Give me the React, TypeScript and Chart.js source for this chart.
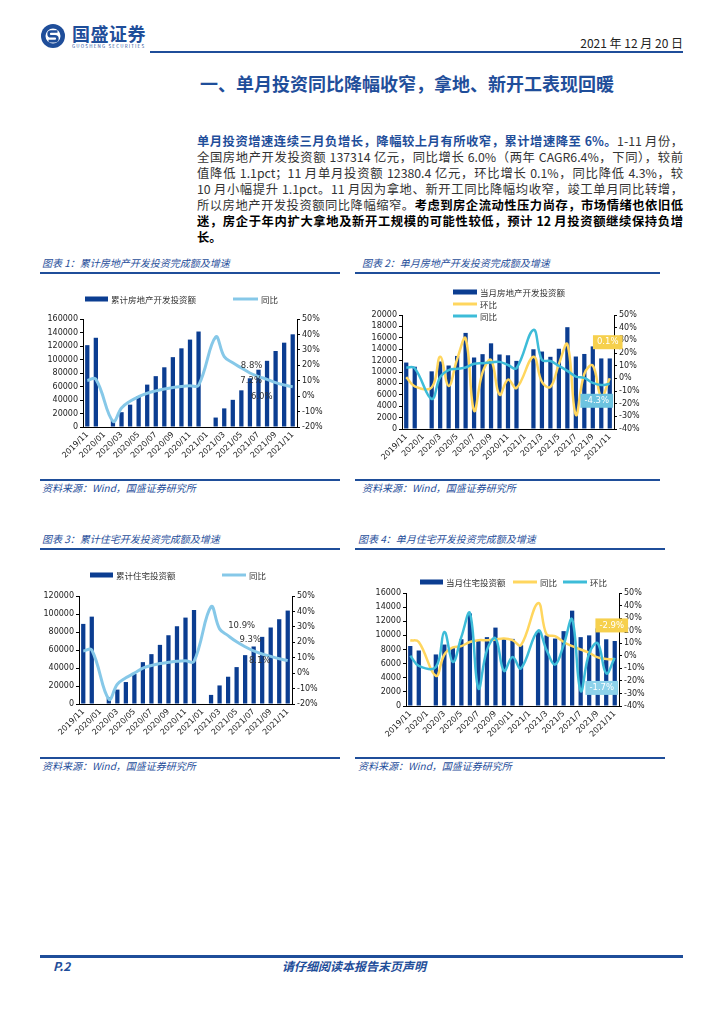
import React, { useEffect, useRef } from "react";
import { Chart, registerables } from "chart.js";

Chart.register(...registerables);

// ---------------- data ----------------
const categories = [
  "2019/11", "2019/12", "2020/01", "2020/02", "2020/03", "2020/04", "2020/05", "2020/06", "2020/07",
  "2020/08", "2020/09", "2020/10", "2020/11", "2020/12", "2021/01", "2021/02", "2021/03", "2021/04",
  "2021/05", "2021/06", "2021/07", "2021/08", "2021/09", "2021/10", "2021/11",
];
const categoriesShort = [
  "2019/11", "2019/12", "2020/1", "2020/2", "2020/3", "2020/4", "2020/5", "2020/6", "2020/7",
  "2020/8", "2020/9", "2020/10", "2020/11", "2020/12", "2021/1", "2021/2", "2021/3", "2021/4",
  "2021/5", "2021/6", "2021/7", "2021/8", "2021/9", "2021/10", "2021/11",
];

// Chart 1: cumulative real-estate development investment (亿元) and YoY (%)
const cumInvest = [121265, 132194, null, 10115, 21963, 33103, 45920, 62780, 75325, 88454, 103484, 116556, 129492, 141443, null, 13986, 27576, 40240, 54318, 72179, 84895, 98060, 112552, 124934, 137314];
const cumInvestYoY = [10.2, 11.0, null, -16.3, -7.7, -3.3, -0.3, 1.9, 3.4, 4.6, 5.6, 6.3, 6.8, 7.0, null, 38.3, 25.6, 21.6, 18.3, 15.0, 12.7, 10.9, 8.8, 7.2, 6.0];

// Chart 2: monthly real-estate development investment, MoM and YoY (%)
const monthInvest = [11659, 10929, null, 10115, 11848, 11140, 12817, 16860, 12545, 13129, 15030, 13072, 12936, 11951, null, 13986, 13590, 12664, 14078, 17861, 12716, 13165, 14492, 12382, 12380];
const monthInvestMoM = [1.0, -6.3, null, -7.2, 17.1, -6.0, 15.1, 31.5, -25.6, 4.7, 14.5, -13.0, -1.0, -7.6, null, 17.0, -2.8, -6.8, 11.2, 26.9, -28.8, 3.5, 10.1, -14.6, 0.1];
const monthInvestYoY = [8.5, 8.0, null, -16.3, 1.0, 6.5, 7.5, 8.5, 11.5, 12.0, 12.5, 13.0, 10.5, 8.0, null, 38.3, 14.5, 13.7, 9.8, 5.9, 1.4, 0.3, -3.6, -5.3, -4.3];

// Chart 3: cumulative residential investment and YoY
const cumResi = [89000, 97071, null, 7400, 16000, 24400, 33400, 46500, 55400, 65700, 76400, 86400, 96000, 104446, null, 10110, 20624, 30300, 41000, 54300, 63900, 74600, 85000, 94200, 103800];
const cumResiYoY = [14.4, 15.0, null, -16.9, -7.2, -3.0, 0.0, 3.3, 5.0, 6.2, 7.0, 7.7, 8.0, 7.6, null, 43.0, 28.7, 24.3, 20.3, 17.1, 14.4, 12.4, 10.9, 9.3, 8.1];

// Chart 4: monthly residential investment, YoY and MoM
const monthResi = [8500, 7860, null, 7300, 8700, 8200, 9450, 13100, 9200, 9750, 11100, 9550, 9500, 8600, null, 10450, 10000, 9550, 10600, 13500, 9750, 10000, 11000, 9450, 9200];
const monthResiYoY = [12.4, 11.0, null, -16.0, 1.0, 6.6, 7.7, 11.0, 12.4, 12.4, 13.0, 13.8, 12.4, 8.5, null, 42.0, 17.0, 15.6, 11.0, 7.7, 5.0, 2.4, -1.3, -2.6, -2.9];
const monthResiMoM = [0.0, -8.0, null, -9.0, 19.0, -5.0, 15.0, 34.0, -26.0, 4.5, 14.0, -12.0, -1.0, -10.0, null, 20.0, 4.5, -7.0, 8.5, 29.0, -28.0, 2.0, 10.0, -14.0, -1.7];

const paragraphLines = [
  "全国房地产开发投资额 137314 亿元，同比增长 6.0%（两年 CAGR6.4%，下同），较前",
  "值降低 1.1pct；11 月单月投资额 12380.4 亿元，环比增长 0.1%，同比降低 4.3%，较",
  "10 月小幅提升 1.1pct。11 月因为拿地、新开工同比降幅均收窄，竣工单月同比转增，",
];

// ---------------- styles ----------------
const NAVY = "#0b3d91";
const SKY = "#86c8e8";
const GOLD = "#ffd65e";
const TEAL = "#3dbcd8";
const BRAND = "#1f4e9a";
const TICK_FONT = { family: '"DejaVu Sans", sans-serif', size: 8 };

type LegendItem = { kind: "bar" | "line"; color: string; text: string; x: number; y: number; w: number };
type ValueLabel = { ds: number; idx: number; text: string; dx: number; dy: number; box?: string };

const overlayPlugin = {
  id: "overlay",
  afterDraw(chart: any, _args: any, opts: any) {
    const ctx = chart.ctx as CanvasRenderingContext2D;
    ctx.save();
    for (const it of (opts.legend || []) as LegendItem[]) {
      if (it.kind === "bar") {
        ctx.fillStyle = it.color;
        ctx.fillRect(it.x, it.y - 2.5, it.w, 5);
      } else {
        ctx.strokeStyle = it.color;
        ctx.lineWidth = 3;
        ctx.beginPath();
        ctx.moveTo(it.x, it.y);
        ctx.lineTo(it.x + it.w, it.y);
        ctx.stroke();
      }
      ctx.fillStyle = "#333";
      ctx.font = '8.5px "Noto Sans CJK SC"';
      ctx.textAlign = "left";
      ctx.textBaseline = "middle";
      ctx.fillText(it.text, it.x + it.w + 3, it.y + 0.5);
    }
    for (const lb of (opts.labels || []) as ValueLabel[]) {
      const el = chart.getDatasetMeta(lb.ds).data[lb.idx];
      if (!el) continue;
      const x = el.x + lb.dx;
      const y = el.y + lb.dy;
      ctx.font = '8.5px "DejaVu Sans"';
      ctx.textAlign = "center";
      ctx.textBaseline = "middle";
      if (lb.box) {
        const w = ctx.measureText(lb.text).width + 8;
        ctx.fillStyle = lb.box;
        ctx.fillRect(x - w / 2, y - 7, w, 14);
        ctx.fillStyle = "#fff";
      } else {
        ctx.fillStyle = "#333";
      }
      ctx.fillText(lb.text, x, y);
    }
    ctx.restore();
  },
};

type LineSpec = { data: (number | null)[]; label: string; color: string; width: number };
type Spec = {
  width: number;
  height: number;
  labels: string[];
  bars: (number | null)[];
  barLabel: string;
  lines: LineSpec[];
  yMax: number;
  yStep: number;
  y1Min: number;
  y1Max: number;
  area: { left: number; right: number; top: number; bottom: number };
  legend: LegendItem[];
  valueLabels: ValueLabel[];
};

function buildConfig(p: Spec): any {
  const labels = p.labels;
  return {
    type: "bar",
    data: {
      labels,
      datasets: [
        {
          type: "bar",
          label: p.barLabel,
          data: p.bars,
          backgroundColor: NAVY,
          barPercentage: 0.5,
          categoryPercentage: 1,
          yAxisID: "y",
          order: 5,
        },
        ...p.lines.map((l, i) => ({
          type: "line",
          label: l.label,
          data: l.data,
          borderColor: l.color,
          backgroundColor: l.color,
          borderWidth: l.width,
          pointRadius: 0,
          tension: 0.4,
          spanGaps: true,
          yAxisID: "y1",
          order: 3 - i,
        })),
      ],
    },
    options: {
      responsive: false,
      animation: false,
      layout: { padding: { top: p.area.top, left: 0, right: 0, bottom: 0 } },
      plugins: {
        legend: { display: false },
        tooltip: { enabled: false },
        overlay: { legend: p.legend, labels: p.valueLabels },
      },
      scales: {
        x: {
          type: "category",
          offset: true,
          grid: { display: true, drawOnChartArea: false, drawTicks: false, color: "#000" },
          border: { display: true, color: "#000", width: 1 },
          ticks: {
            autoSkip: false,
            maxRotation: 45,
            minRotation: 45,
            padding: 3,
            color: "#222",
            font: TICK_FONT,
            callback: (_v: any, index: number) => (index % 2 === 0 ? labels[index] : ""),
          },
          afterFit: (s: any) => {
            s.height = p.height - p.area.bottom;
          },
        },
        y: {
          position: "left",
          min: 0,
          max: p.yMax,
          ticks: {
            stepSize: p.yStep,
            autoSkip: false,
            color: "#222",
            font: TICK_FONT,
            padding: 2,
            callback: (v: any) => String(v),
          },
          grid: { display: true, drawOnChartArea: false, drawTicks: true, tickLength: 3, color: "#000" },
          border: { display: true, color: "#000", width: 1 },
          afterFit: (s: any) => {
            s.width = p.area.left;
          },
        },
        y1: {
          position: "right",
          min: p.y1Min,
          max: p.y1Max,
          ticks: {
            stepSize: 10,
            autoSkip: false,
            color: "#222",
            font: TICK_FONT,
            padding: 2,
            callback: (v: any) => `${v}%`,
          },
          grid: { display: true, drawOnChartArea: false, drawTicks: true, tickLength: 3, color: "#000" },
          border: { display: true, color: "#000", width: 1 },
          afterFit: (s: any) => {
            s.width = p.width - p.area.right;
          },
        },
      },
    },
    plugins: [overlayPlugin],
  };
}

function ChartBox({ left, top, spec }: { left: number; top: number; spec: Spec }) {
  const ref = useRef<HTMLCanvasElement>(null);
  useEffect(() => {
    const chart = new Chart(ref.current as HTMLCanvasElement, buildConfig(spec));
    return () => chart.destroy();
  }, []);
  return (
    <div style={{ position: "absolute", left, top, width: spec.width, height: spec.height }}>
      <canvas ref={ref} width={spec.width} height={spec.height} style={{ width: spec.width, height: spec.height, display: "block" }} />
    </div>
  );
}

const spec1: Spec = {
  width: 300,
  height: 194,
  labels: categories,
  bars: cumInvest,
  barLabel: "累计房地产开发投资额",
  lines: [{ data: cumInvestYoY, label: "同比", color: SKY, width: 3 }],
  yMax: 160000,
  yStep: 20000,
  y1Min: -20,
  y1Max: 50,
  area: { left: 43, right: 257, top: 35, bottom: 143 },
  legend: [
    { kind: "bar", color: NAVY, text: "累计房地产开发投资额", x: 45, y: 15, w: 23 },
    { kind: "line", color: SKY, text: "同比", x: 193, y: 15, w: 25 },
  ],
  valueLabels: [
    { ds: 1, idx: 22, text: "8.8%", dx: -24, dy: -17 },
    { ds: 1, idx: 23, text: "7.2%", dx: -33, dy: -4 },
    { ds: 1, idx: 24, text: "6.0%", dx: -31, dy: 10 },
  ],
};

const spec2: Spec = {
  width: 310,
  height: 194,
  labels: categoriesShort,
  bars: monthInvest,
  barLabel: "当月房地产开发投资额",
  lines: [
    { data: monthInvestMoM, label: "环比", color: GOLD, width: 2.5 },
    { data: monthInvestYoY, label: "同比", color: TEAL, width: 2.5 },
  ],
  yMax: 20000,
  yStep: 2000,
  y1Min: -40,
  y1Max: 50,
  area: { left: 47, right: 259, top: 31, bottom: 145 },
  legend: [
    { kind: "bar", color: NAVY, text: "当月房地产开发投资额", x: 98, y: 8, w: 24 },
    { kind: "line", color: GOLD, text: "环比", x: 98, y: 20, w: 24 },
    { kind: "line", color: TEAL, text: "同比", x: 98, y: 32, w: 24 },
  ],
  valueLabels: [
    { ds: 1, idx: 24, text: "0.1%", dx: -2, dy: -36, box: "#f6d04d" },
    { ds: 2, idx: 24, text: "-4.3%", dx: -13, dy: 17, box: "#6cc3e0" },
  ],
};

const spec3: Spec = {
  width: 300,
  height: 200,
  labels: categories,
  bars: cumResi,
  barLabel: "累计住宅投资额",
  lines: [{ data: cumResiYoY, label: "同比", color: SKY, width: 3 }],
  yMax: 120000,
  yStep: 20000,
  y1Min: -20,
  y1Max: 50,
  area: { left: 39, right: 252, top: 40, bottom: 148 },
  legend: [
    { kind: "bar", color: NAVY, text: "累计住宅投资额", x: 50, y: 19, w: 23 },
    { kind: "line", color: SKY, text: "同比", x: 182, y: 19, w: 24 },
  ],
  valueLabels: [
    { ds: 1, idx: 22, text: "10.9%", dx: -29, dy: -31 },
    { ds: 1, idx: 23, text: "9.3%", dx: -29, dy: -19 },
    { ds: 1, idx: 24, text: "8.1%", dx: -28, dy: 0 },
  ],
};

const spec4: Spec = {
  width: 310,
  height: 200,
  labels: categoriesShort,
  bars: monthResi,
  barLabel: "当月住宅投资额",
  lines: [
    { data: monthResiYoY, label: "同比", color: GOLD, width: 2.5 },
    { data: monthResiMoM, label: "环比", color: TEAL, width: 2.5 },
  ],
  yMax: 16000,
  yStep: 2000,
  y1Min: -40,
  y1Max: 50,
  area: { left: 51, right: 264, top: 37, bottom: 150 },
  legend: [
    { kind: "bar", color: NAVY, text: "当月住宅投资额", x: 65, y: 26, w: 23 },
    { kind: "line", color: GOLD, text: "同比", x: 158, y: 26, w: 24 },
    { kind: "line", color: TEAL, text: "环比", x: 208, y: 26, w: 24 },
  ],
  valueLabels: [
    { ds: 1, idx: 24, text: "-2.9%", dx: -3, dy: -34, box: "#f6d04d" },
    { ds: 2, idx: 24, text: "-1.7%", dx: -13, dy: 30, box: "#8dd2ea" },
  ],
};

const abs = (s: React.CSSProperties): React.CSSProperties => ({ position: "absolute", ...s });

function Rule({ left, top, width, h = 2 }: { left: number; top: number; width: number; h?: number }) {
  return <div style={abs({ left, top, width, height: h, background: BRAND })} />;
}

function Caption({ left, top, text }: { left: number; top: number; text: string }) {
  return (
    <div style={abs({ left, top, fontSize: 10, lineHeight: "12px", fontStyle: "italic", color: BRAND, whiteSpace: "nowrap" })}>
      {text}
    </div>
  );
}

const lineStyle = (top: number): React.CSSProperties =>
  abs({
    left: 197,
    top,
    width: 486,
    fontSize: 12.3,
    lineHeight: "16px",
    textAlign: "justify",
    textAlignLast: "justify",
    color: "#333",
    whiteSpace: "normal",
  } as React.CSSProperties);

export default function App() {
  const L0 = 133;
  const LH = 16;
  return (
    <div
      style={abs({
        left: 0,
        top: 0,
        width: 724,
        height: 1024,
        background: "#fff",
        overflow: "hidden",
        fontFamily: '"Noto Sans CJK SC", sans-serif',
      })}
    >
      {/* header */}
      <svg style={abs({ left: 40, top: 23 })} width={26} height={26} viewBox="0 0 26 26">
        <circle cx={13} cy={13} r={12} fill={BRAND} />
        <circle cx={13} cy={13} r={7.5} fill="#fff" />
        <path d="M17.5 8.5 H11 a2.4 2.4 0 0 0 0 4.8 h4 a2.4 2.4 0 0 1 0 4.8 H8.5" stroke={BRAND} strokeWidth={2.6} fill="none" />
      </svg>
      <div style={abs({ left: 72, top: 22, fontSize: 18, fontWeight: 700, color: BRAND, letterSpacing: 0.5, lineHeight: "22px" })}>
        国盛证券
      </div>
      <div style={abs({ left: 72, top: 43, fontSize: 4.5, color: BRAND, letterSpacing: 1.2, lineHeight: "6px", whiteSpace: "nowrap" })}>
        GUOSHENG SECURITIES
      </div>
      <div style={abs({ left: 540, top: 35, width: 143, textAlign: "right", fontSize: 12, lineHeight: "16px", color: "#222" })}>
        2021 年 12 月 20 日
      </div>
      <Rule left={150} top={51} width={533} h={2} />
      <div style={abs({ left: 200, top: 72, fontSize: 18, lineHeight: "22px", fontWeight: 700, color: BRAND, whiteSpace: "nowrap" })}>
        一、单月投资同比降幅收窄，拿地、新开工表现回暖
      </div>

      {/* paragraph */}
      <div style={lineStyle(L0)}>
        <b style={{ color: BRAND }}>单月投资增速连续三月负增长，降幅较上月有所收窄，累计增速降至 6%。</b>1-11 月份，
      </div>
      {paragraphLines.map((t, i) => (
        <div key={i} style={lineStyle(L0 + LH * (i + 1))}>
          {t}
        </div>
      ))}
      <div style={lineStyle(L0 + LH * 4)}>
        所以房地产开发投资额同比降幅缩窄。<b style={{ color: "#000" }}>考虑到房企流动性压力尚存，市场情绪也依旧低</b>
      </div>
      <div style={lineStyle(L0 + LH * 5)}>
        <b style={{ color: "#000" }}>迷，房企于年内扩大拿地及新开工规模的可能性较低，预计 12 月投资额继续保持负增</b>
      </div>
      <div style={{ ...lineStyle(L0 + LH * 6), textAlignLast: "left" } as React.CSSProperties}>
        <b style={{ color: "#000" }}>长。</b>
      </div>

      {/* charts row 1 */}
      <Caption left={42} top={257} text="图表 1：累计房地产开发投资完成额及增速" />
      <Caption left={362} top={257} text="图表 2：单月房地产开发投资完成额及增速" />
      <Rule left={40} top={272} width={300} />
      <Rule left={355} top={272} width={305} />
      <ChartBox left={40} top={284} spec={spec1} />
      <ChartBox left={355} top={284} spec={spec2} />
      <Rule left={40} top={479} width={300} />
      <Rule left={355} top={479} width={305} />
      <Caption left={42} top={482} text="资料来源：Wind，国盛证券研究所" />
      <Caption left={362} top={482} text="资料来源：Wind，国盛证券研究所" />

      {/* charts row 2 */}
      <Caption left={42} top={533} text="图表 3：累计住宅开发投资完成额及增速" />
      <Caption left={358} top={533} text="图表 4：单月住宅开发投资完成额及增速" />
      <Rule left={40} top={548} width={300} />
      <Rule left={355} top={548} width={310} />
      <ChartBox left={40} top={556} spec={spec3} />
      <ChartBox left={355} top={556} spec={spec4} />
      <Rule left={40} top={757} width={300} />
      <Rule left={355} top={757} width={310} />
      <Caption left={42} top={760} text="资料来源：Wind，国盛证券研究所" />
      <Caption left={358} top={760} text="资料来源：Wind，国盛证券研究所" />

      {/* footer */}
      <Rule left={40} top={955} width={643} h={2.5} />
      <div style={abs({ left: 53, top: 959, fontSize: 12, fontWeight: 700, fontStyle: "italic", color: BRAND, lineHeight: "14px" })}>
        P.2
      </div>
      <div style={abs({ left: 282, top: 959, fontSize: 12, fontWeight: 700, fontStyle: "italic", color: BRAND, lineHeight: "14px", whiteSpace: "nowrap" })}>
        请仔细阅读本报告末页声明
      </div>
    </div>
  );
}
